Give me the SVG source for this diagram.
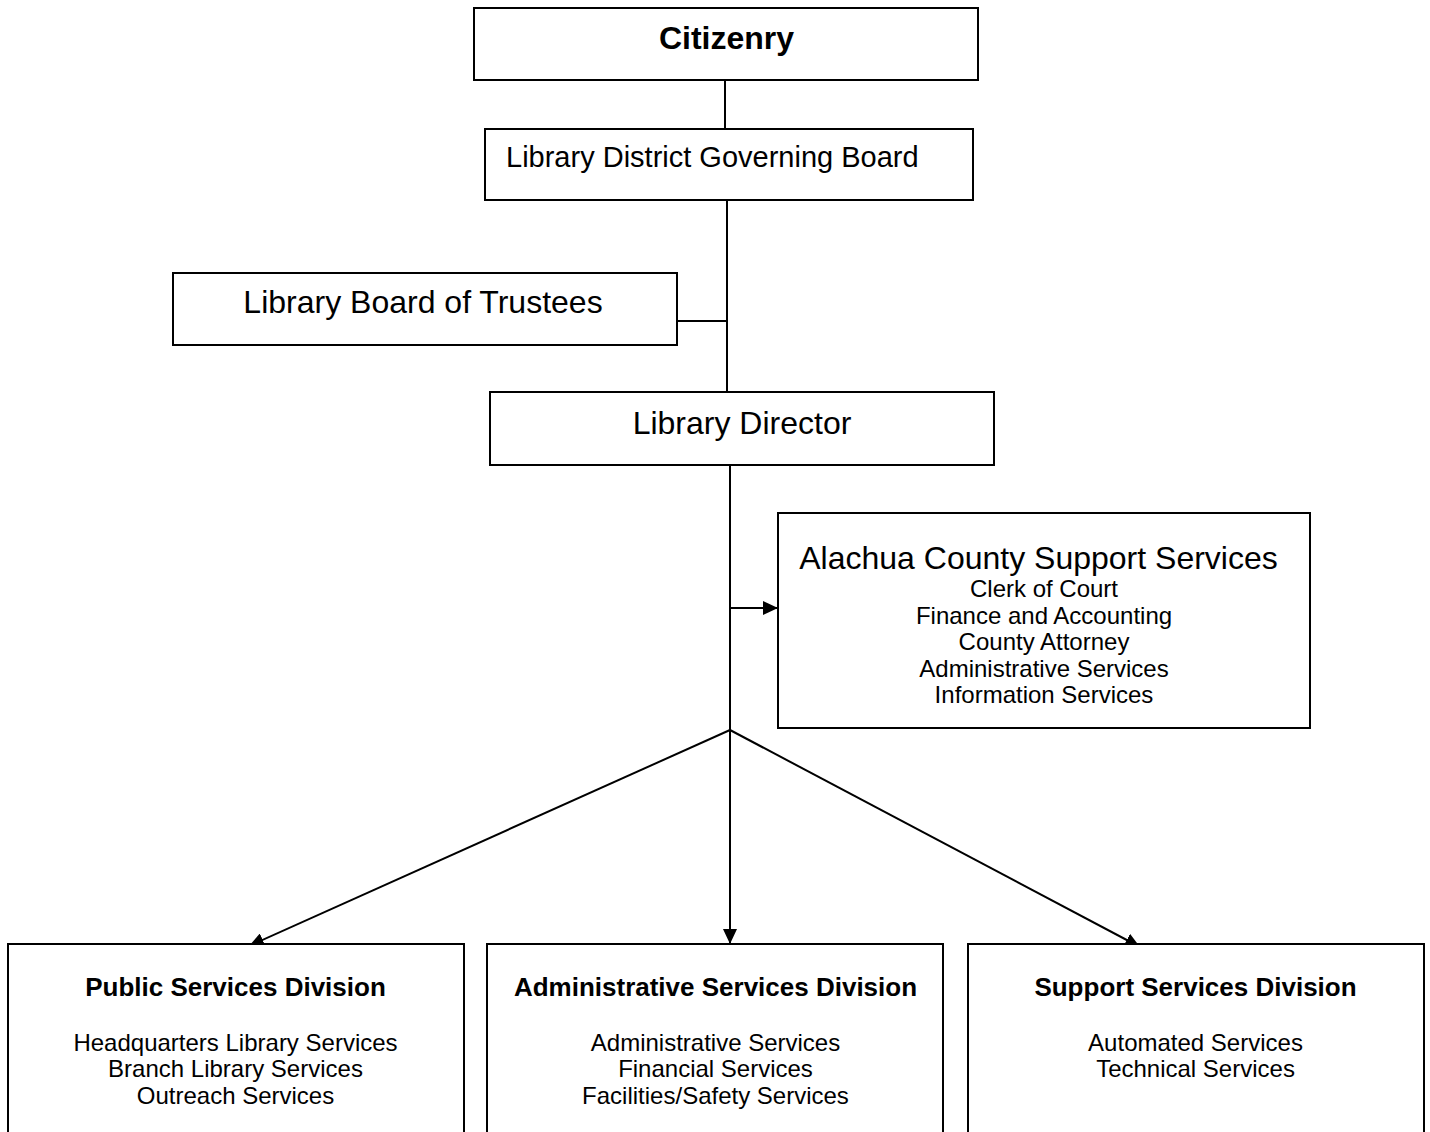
<svg xmlns="http://www.w3.org/2000/svg" width="1430" height="1132" viewBox="0 0 1430 1132">
<defs>
<marker id="ah" markerUnits="userSpaceOnUse" markerWidth="15" markerHeight="14" refX="15" refY="7" orient="auto">
<path d="M0,0 L15,7 L0,14 z" fill="#000"/>
</marker>
<style>
.box{fill:#fff;stroke:#000;stroke-width:2}
.ln{fill:none;stroke:#000;stroke-width:2}
.t{font-family:"Liberation Sans",Arial,sans-serif;fill:#000}
.c{text-anchor:middle}
.b{font-weight:bold}
.s{font-size:24px}
</style>
</defs>
<rect width="1430" height="1132" fill="#fff"/>
<g id="connectors">
<line class="ln" x1="725" y1="80" x2="725" y2="129"/>
<line class="ln" x1="727" y1="200" x2="727" y2="392"/>
<line class="ln" x1="677" y1="321" x2="727" y2="321"/>
<line class="ln" x1="730" y1="465" x2="730" y2="730"/>
<line class="ln" x1="730" y1="608" x2="778" y2="608" marker-end="url(#ah)"/>
<line class="ln" x1="730" y1="730" x2="249" y2="946" marker-end="url(#ah)"/>
<line class="ln" x1="730" y1="730" x2="730" y2="944" marker-end="url(#ah)"/>
<line class="ln" x1="730" y1="730" x2="1140" y2="947" marker-end="url(#ah)"/>
</g>
<g id="citizenry">
<rect class="box" x="474" y="8" width="504" height="72"/>
<text class="t c b" x="726.5" y="49" font-size="32">Citizenry</text>
</g>
<g id="governing-board">
<rect class="box" x="485" y="129" width="488" height="71"/>
<text class="t" x="506" y="167" font-size="29">Library District Governing Board</text>
</g>
<g id="trustees">
<rect class="box" x="173" y="273" width="504" height="72"/>
<text class="t c" x="423" y="313" font-size="32">Library Board of Trustees</text>
</g>
<g id="director">
<rect class="box" x="490" y="392" width="504" height="73"/>
<text class="t c" x="742" y="434" font-size="32">Library Director</text>
</g>
<g id="alachua">
<rect class="box" x="778" y="513" width="532" height="215"/>
<text class="t c" x="1038.5" y="569" font-size="32">Alachua County Support Services</text>
<text class="t c s" x="1044" y="597">Clerk of Court</text>
<text class="t c s" x="1044" y="624">Finance and Accounting</text>
<text class="t c s" x="1044" y="650">County Attorney</text>
<text class="t c s" x="1044" y="677">Administrative Services</text>
<text class="t c s" x="1044" y="703">Information Services</text>
</g>
<g id="public-services">
<rect class="box" x="8" y="944" width="456" height="210"/>
<text class="t c b" x="235.5" y="996" font-size="26">Public Services Division</text>
<text class="t c s" x="235.5" y="1051">Headquarters Library Services</text>
<text class="t c s" x="235.5" y="1077">Branch Library Services</text>
<text class="t c s" x="235.5" y="1104">Outreach Services</text>
</g>
<g id="administrative-services">
<rect class="box" x="487" y="944" width="456" height="210"/>
<text class="t c b" x="715.5" y="996" font-size="26">Administrative Services Division</text>
<text class="t c s" x="715.5" y="1051">Administrative Services</text>
<text class="t c s" x="715.5" y="1077">Financial Services</text>
<text class="t c s" x="715.5" y="1104">Facilities/Safety Services</text>
</g>
<g id="support-services">
<rect class="box" x="968" y="944" width="456" height="210"/>
<text class="t c b" x="1195.5" y="996" font-size="26">Support Services Division</text>
<text class="t c s" x="1195.5" y="1051">Automated Services</text>
<text class="t c s" x="1195.5" y="1077">Technical Services</text>
</g>
</svg>
